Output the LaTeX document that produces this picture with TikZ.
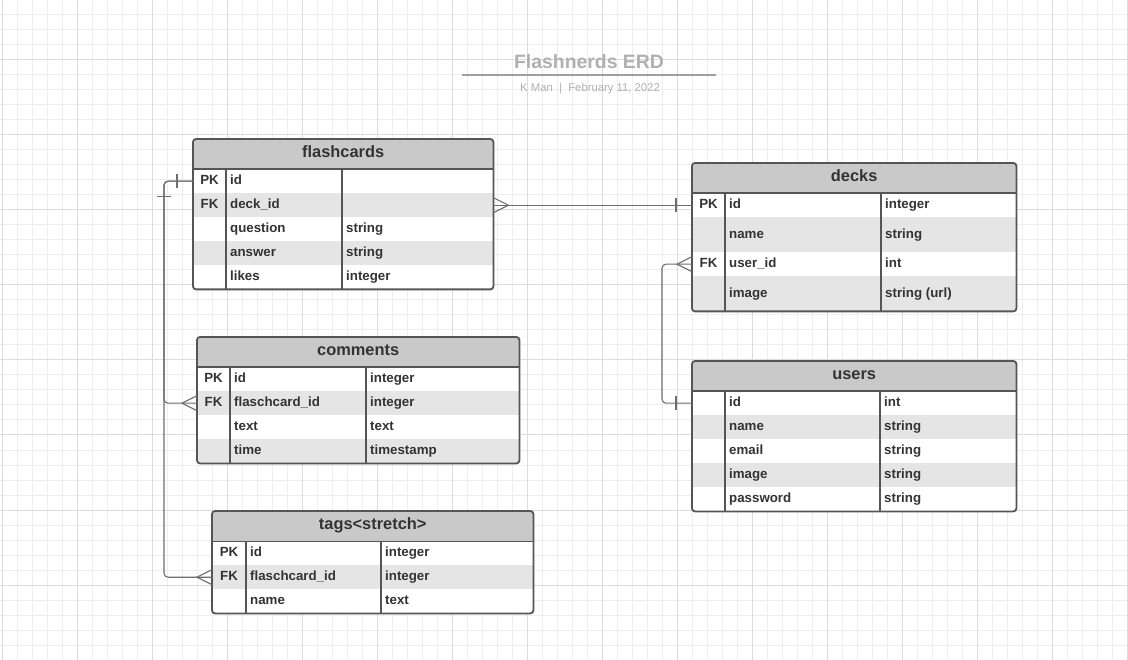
\documentclass[tikz,border=0pt]{standalone}
\usepackage{fontspec}
\setmainfont{Liberation Sans}
\usetikzlibrary{positioning, calc}

\definecolor{gridminor}{HTML}{EEEEEE}
\definecolor{gridmajor}{HTML}{DCDCDC}
\definecolor{headgray}{HTML}{C9C9C9}
\definecolor{rowgray}{HTML}{E5E5E5}
\definecolor{edgegray}{HTML}{555555}
\definecolor{textgray}{HTML}{333333}
\definecolor{linkgray}{HTML}{6E6E6E}
\definecolor{titlegray}{HTML}{B0B0B0}

\begin{document}
\begin{tikzpicture}[x=1pt, y=-1pt,
    header/.style={rectangle, fill=headgray, anchor=north west, minimum height=30, inner sep=0, text=textgray, font=\fontsize{16.4}{19}\selectfont\bfseries, text height=10.9pt, text depth=3.5pt},
    row/.style={rectangle, anchor=north west, minimum height=24, inner sep=0},
    keytxt/.style={inner sep=0, text=textgray, font=\fontsize{13.3}{16}\selectfont\bfseries, text height=9.6pt, text depth=2.8pt},
    celltxt/.style={keytxt, anchor=west},
    frame/.style={draw=edgegray, line width=1.8, rounded corners=3},
    divider/.style={draw=edgegray, line width=1.8},
    link/.style={draw=linkgray, line width=1.1}]

  % background grid
  \useasboundingbox (0,0) rectangle (1128,660);
  \fill[white] (0,0) rectangle (1128,660);
  \foreach \gx in {2,17,...,1127} \draw[gridminor, line width=1] (\gx,0) -- (\gx,660);
  \foreach \gy in {0,15,...,660} \draw[gridminor, line width=1] (0,\gy) -- (1128,\gy);
  \foreach \gx in {2,77,...,1127} \draw[gridmajor, line width=1] (\gx,0) -- (\gx,660);
  \foreach \gy in {60,135,...,660} \draw[gridmajor, line width=1] (0,\gy) -- (1128,\gy);

  % Title
  \node[font=\fontsize{19.4}{23}\selectfont\bfseries, text=titlegray] (title) at (589,62) {Flashnerds ERD};
  \coordinate (rulel) at (462,75);
  \coordinate (ruler) at (716,75);
  \draw[titlegray!90!black, line width=1.6] (rulel) -- (ruler);
  \node[font=\fontsize{11.3}{13}\selectfont, text=titlegray] (byline) at (590,89) {K Man~~|~~February 11, 2022};

  % flashcards
  \node[header, minimum width=300] (fc) at (193,139) {flashcards};
  \foreach \i/\k/\f/\t in {1/PK/id/, 2/FK/deck\_id/, 3//question/string, 4//answer/string, 5//likes/integer} {
    \ifodd\i \def\rowfill{white}\else \def\rowfill{rowgray}\fi
    \node[row, minimum width=300, fill=\rowfill] (fc-\i) at (193,145+24*\i) {};
    \node[keytxt, xshift=16.5] (fc-\i-k) at (fc-\i.west) {\k};
    \node[celltxt, xshift=37] (fc-\i-f) at (fc-\i.west) {\f};
    \node[celltxt, xshift=153] (fc-\i-t) at (fc-\i.west) {\t};
  }
  \draw[frame] (fc.north west) rectangle (fc-5.south east);
  \draw[divider] (fc.south west) -- (fc.south east);
  \draw[divider] ([xshift=33]fc-1.north west) -- ([xshift=33]fc-5.south west);
  \draw[divider] ([xshift=149]fc-1.north west) -- ([xshift=149]fc-5.south west);

  % decks
  \node[header, minimum width=324] (dk) at (692,163) {decks};
  \foreach \i/\ry/\rh/\k/\f/\t in {1/193/24/PK/id/integer, 2/217/35//name/string, 3/252/24/FK/user\_id/int, 4/276/35//image/string (url)} {
    \ifodd\i \def\rowfill{white}\else \def\rowfill{rowgray}\fi
    \node[row, minimum width=324, minimum height=\rh, fill=\rowfill] (dk-\i) at (692,\ry) {};
    \node[keytxt, xshift=16.5] (dk-\i-k) at (dk-\i.west) {\k};
    \node[celltxt, xshift=37] (dk-\i-f) at (dk-\i.west) {\f};
    \node[celltxt, xshift=193] (dk-\i-t) at (dk-\i.west) {\t};
  }
  \draw[frame] (dk.north west) rectangle (dk-4.south east);
  \draw[divider] (dk.south west) -- (dk.south east);
  \draw[divider] ([xshift=33]dk-1.north west) -- ([xshift=33]dk-4.south west);
  \draw[divider] ([xshift=189]dk-1.north west) -- ([xshift=189]dk-4.south west);

  % comments
  \node[header, minimum width=322] (cm) at (197,337) {comments};
  \foreach \i/\k/\f/\t in {1/PK/id/integer, 2/FK/flaschcard\_id/integer, 3//text/text, 4//time/timestamp} {
    \ifodd\i \def\rowfill{white}\else \def\rowfill{rowgray}\fi
    \node[row, minimum width=322, fill=\rowfill] (cm-\i) at (197,343+24*\i) {};
    \node[keytxt, xshift=16.5] (cm-\i-k) at (cm-\i.west) {\k};
    \node[celltxt, xshift=37] (cm-\i-f) at (cm-\i.west) {\f};
    \node[celltxt, xshift=173] (cm-\i-t) at (cm-\i.west) {\t};
  }
  \draw[frame] (cm.north west) rectangle (cm-4.south east);
  \draw[divider] (cm.south west) -- (cm.south east);
  \draw[divider] ([xshift=33]cm-1.north west) -- ([xshift=33]cm-4.south west);
  \draw[divider] ([xshift=169]cm-1.north west) -- ([xshift=169]cm-4.south west);

  % tags
  \node[header, minimum width=321] (tg) at (212,511) {tags<stretch>};
  \foreach \i/\k/\f/\t in {1/PK/id/integer, 2/FK/flaschcard\_id/integer, 3//name/text} {
    \ifodd\i \def\rowfill{white}\else \def\rowfill{rowgray}\fi
    \node[row, minimum width=321, fill=\rowfill] (tg-\i) at (212,517+24*\i) {};
    \node[keytxt, xshift=17] (tg-\i-k) at (tg-\i.west) {\k};
    \node[celltxt, xshift=38] (tg-\i-f) at (tg-\i.west) {\f};
    \node[celltxt, xshift=173] (tg-\i-t) at (tg-\i.west) {\t};
  }
  \draw[frame] (tg.north west) rectangle (tg-3.south east);
  \draw[divider] (tg.south west) -- (tg.south east);
  \draw[divider] ([xshift=34]tg-1.north west) -- ([xshift=34]tg-3.south west);
  \draw[divider] ([xshift=169]tg-1.north west) -- ([xshift=169]tg-3.south west);

  % users
  \node[header, minimum width=324] (us) at (692,361) {users};
  \foreach \i/\f/\t in {1/id/int, 2/name/string, 3/email/string, 4/image/string, 5/password/string} {
    \ifodd\i \def\rowfill{white}\else \def\rowfill{rowgray}\fi
    \node[row, minimum width=324, fill=\rowfill] (us-\i) at (692,367+24*\i) {};
    \node[celltxt, xshift=37] (us-\i-f) at (us-\i.west) {\f};
    \node[celltxt, xshift=192] (us-\i-t) at (us-\i.west) {\t};
  }
  \draw[frame] (us.north west) rectangle (us-5.south east);
  \draw[divider] (us.south west) -- (us.south east);
  \draw[divider] ([xshift=33]us-1.north west) -- ([xshift=33]us-5.south west);
  \draw[divider] ([xshift=188]us-1.north west) -- ([xshift=188]us-5.south west);

  % Relations
  \coordinate (fcbus) at (164,0);
  \coordinate (dkbus) at (662,0);
  \coordinate (fccorner) at (fcbus |- fc-1.west);
  \draw[link] (fc-2.east) -- (dk-1.west);
  \draw[link, rounded corners=4] (fc-1.west) -| (fcbus |- cm-2.west) -- (cm-2.west);
  \draw[link, rounded corners=4] (fc-1.west) -| (fcbus |- tg-2.west) -- (tg-2.west);
  \draw[link, rounded corners=4] (dk-3.west) -| (dkbus |- us-1.west) -- (us-1.west);

  % many ends
  \draw[link] ([yshift=7.5]fc-2.east) -- ([xshift=15]fc-2.east) -- ([yshift=-7.5]fc-2.east);
  \foreach \n in {cm-2, tg-2, dk-3}
    \draw[link] ([yshift=7.5]\n.west) -- ([xshift=-15]\n.west) -- ([yshift=-7.5]\n.west);

  % one ends
  \foreach \n in {dk-1, us-1, fc-1}
    \draw[link] ([xshift=-16,yshift=7]\n.west) -- ([xshift=-16,yshift=-7]\n.west);
  \draw[link] ([xshift=-7,yshift=-15]fccorner) -- ([xshift=7,yshift=-15]fccorner);
\end{tikzpicture}
\end{document}
